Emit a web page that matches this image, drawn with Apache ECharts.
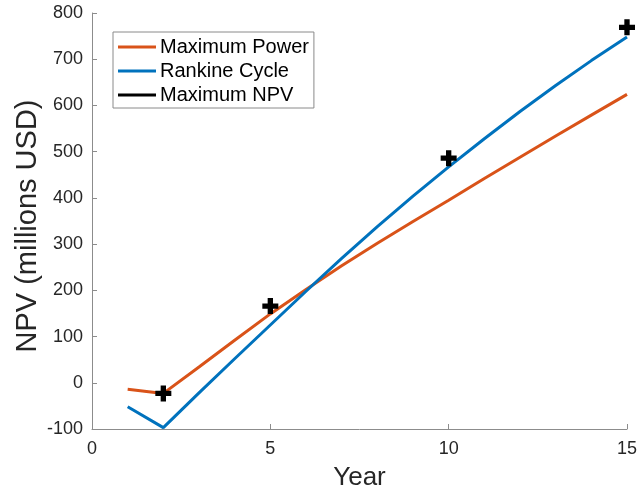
<!DOCTYPE html>
<html>
<head>
<meta charset="utf-8">
<script src="https://cdn.jsdelivr.net/npm/echarts@6/dist/echarts.min.js"></script>
<style>
  html, body { margin: 0; padding: 0; background: #fff; }
  #chart { width: 639px; height: 493px; }
</style>
</head>
<body>
<div id="chart"></div>
<script>
// Net present value over the project lifetime, millions USD
const years = [1, 2, 3, 4, 5, 6, 7, 8, 9, 10, 11, 12, 13, 14, 15];
const maxPower = [-14, -23, 34, 92, 149, 202, 253, 302, 349, 395, 442, 488, 534, 579, 624];
const rankine = [-52, -97, -22, 52, 125, 198, 269, 338, 404, 467, 528, 587, 643, 697, 748];
const bestYears = [2, 5, 10, 15];
const bestNpv = [-23, 166, 486, 769];
const xTicks = [0, 5, 10, 15];
const yTicks = [-100, 0, 100, 200, 300, 400, 500, 600, 700, 800];

const FONT = 'Liberation Sans, Arial, Helvetica, sans-serif';
const pairs = (xs, ys) => xs.map((x, i) => [x, ys[i]]);
const plusPath = 'path://M-1,-3L1,-3L1,-1L3,-1L3,1L1,1L1,3L-1,3L-1,1L-3,1L-3,-1L-1,-1Z';

const chart = echarts.init(document.getElementById('chart'), null, { renderer: 'canvas' });
chart.setOption({
  animation: false,
  backgroundColor: '#ffffff',
  textStyle: { fontFamily: FONT },
  grid: { left: 92, right: 12, top: 13, bottom: 64, containLabel: false, outerBoundsMode: 'none' },
  legend: {
    orient: 'vertical',
    left: 113,
    top: 32,
    padding: [5, 5, 3, 5],
    itemWidth: 38,
    itemHeight: 3,
    itemGap: 4,
    icon: 'rect',
    borderColor: '#8a8a8a',
    borderWidth: 1,
    backgroundColor: '#ffffff',
    textStyle: { fontFamily: FONT, fontSize: 20, color: '#000000', padding: [0, 0, 0, -1] },
    data: ['Maximum Power', 'Rankine Cycle', 'Maximum NPV']
  },
  xAxis: {
    type: 'value',
    min: xTicks[0],
    max: xTicks[xTicks.length - 1],
    interval: 5,
    name: 'Year',
    nameLocation: 'middle',
    nameGap: 36,
    nameMoveOverlap: false,
    nameTextStyle: { fontFamily: FONT, fontSize: 26, color: '#262626' },
    axisLine: { show: true, onZero: false, lineStyle: { color: '#8c8c8c', width: 1 } },
    axisTick: { show: true, inside: true, length: 5, lineStyle: { color: '#8c8c8c' } },
    axisLabel: { fontFamily: FONT, fontSize: 18, color: '#262626', margin: 11 },
    splitLine: { show: false }
  },
  yAxis: {
    type: 'value',
    min: yTicks[0],
    max: yTicks[yTicks.length - 1],
    interval: 100,
    name: 'NPV (millions USD)',
    nameLocation: 'middle',
    nameGap: 50,
    nameMoveOverlap: false,
    nameTextStyle: { fontFamily: FONT, fontSize: 29, color: '#262626', padding: [0, 10, 0, 0] },
    axisLine: { show: true, onZero: false, lineStyle: { color: '#8c8c8c', width: 1 } },
    axisTick: { show: true, inside: true, length: 5, lineStyle: { color: '#8c8c8c' } },
    axisLabel: { fontFamily: FONT, fontSize: 18, color: '#262626', margin: 9 },
    splitLine: { show: false }
  },
  series: [
    {
      name: 'Maximum Power',
      type: 'line',
      data: pairs(years, maxPower),
      showSymbol: false,
      symbol: 'none',
      color: '#D95319',
      lineStyle: { width: 3, color: '#D95319' },
      z: 2
    },
    {
      name: 'Rankine Cycle',
      type: 'line',
      data: pairs(years, rankine),
      showSymbol: false,
      symbol: 'none',
      color: '#0072BD',
      lineStyle: { width: 3, color: '#0072BD' },
      z: 3
    },
    {
      name: 'Maximum NPV',
      type: 'scatter',
      data: pairs(bestYears, bestNpv),
      symbol: plusPath,
      symbolSize: 16,
      color: '#000000',
      itemStyle: { color: '#000000', opacity: 1 },
      emphasis: { disabled: true },
      z: 4
    }
  ]
});
</script>
</body>
</html>
